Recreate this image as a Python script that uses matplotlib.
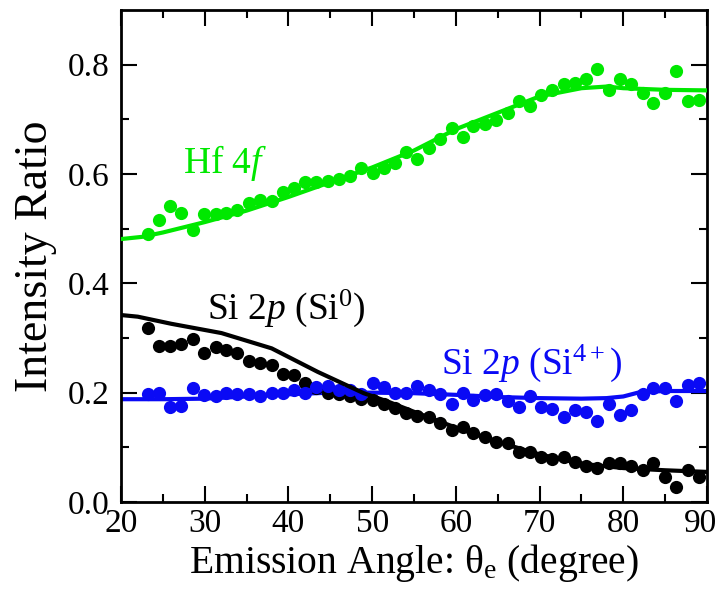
import numpy as np
import matplotlib
matplotlib.use("Agg")
import matplotlib.pyplot as plt
import matplotlib.transforms as mtransforms

plt.rcParams['font.family'] = ['Liberation Serif', 'DejaVu Serif']
plt.rcParams['mathtext.fontset'] = 'custom'
plt.rcParams['mathtext.rm'] = 'Liberation Serif'
plt.rcParams['mathtext.it'] = 'Liberation Serif:italic'

# angulos de emissao (graus)
angle = [23.2, 24.5, 25.9, 27.2, 28.6, 29.9, 31.3, 32.6, 33.9, 35.3,
         36.6, 38.0, 39.3, 40.7, 42.0, 43.3, 44.7, 46.0, 47.4, 48.7,
         50.1, 51.4, 52.7, 54.1, 55.4, 56.8, 58.1, 59.5, 60.8, 62.1,
         63.5, 64.8, 66.2, 67.5, 68.9, 70.2, 71.5, 72.9, 74.2, 75.6,
         76.9, 78.3, 79.6, 80.9, 82.3, 83.6, 85.0, 86.3, 87.7, 89.0]

# Hf 4f
hf = [0.491, 0.516, 0.541, 0.528, 0.498, 0.527, 0.527, 0.528, 0.535, 0.547,
      0.553, 0.550, 0.568, 0.574, 0.585, 0.585, 0.588, 0.591, 0.597, 0.611,
      0.602, 0.611, 0.621, 0.641, 0.627, 0.647, 0.664, 0.684, 0.668, 0.688,
      0.692, 0.699, 0.712, 0.733, 0.724, 0.745, 0.754, 0.765, 0.766, 0.773,
      0.792, 0.753, 0.773, 0.765, 0.749, 0.729, 0.749, 0.788, 0.733, 0.736]

# Si 2p (Si0)
si0 = [0.318, 0.286, 0.286, 0.289, 0.298, 0.272, 0.284, 0.278, 0.272, 0.257,
       0.254, 0.251, 0.234, 0.232, 0.217, 0.208, 0.199, 0.198, 0.193, 0.188,
       0.187, 0.179, 0.172, 0.162, 0.158, 0.156, 0.144, 0.132, 0.138, 0.126,
       0.118, 0.110, 0.107, 0.092, 0.092, 0.083, 0.078, 0.083, 0.074, 0.065,
       0.062, 0.071, 0.071, 0.065, 0.059, 0.071, 0.046, 0.027, 0.059, 0.046]

# Si 2p (Si4+)
si4 = [0.198, 0.200, 0.174, 0.176, 0.208, 0.196, 0.193, 0.200, 0.198, 0.198,
       0.193, 0.200, 0.200, 0.205, 0.199, 0.211, 0.212, 0.205, 0.205, 0.198,
       0.217, 0.210, 0.200, 0.200, 0.212, 0.205, 0.198, 0.179, 0.200, 0.187,
       0.196, 0.198, 0.184, 0.174, 0.193, 0.174, 0.171, 0.156, 0.168, 0.165,
       0.149, 0.179, 0.159, 0.168, 0.198, 0.208, 0.208, 0.184, 0.214, 0.217]

# curvas de ajuste
fit_hf_x = [20, 22.5, 25, 30, 35, 40, 45, 50, 55, 60, 65, 70, 75, 78, 80, 85, 90]
fit_hf_y = [0.481, 0.485, 0.493, 0.512, 0.533, 0.558, 0.585, 0.612, 0.643, 0.682,
            0.712, 0.742, 0.757, 0.760, 0.757, 0.754, 0.753]

fit_si0_x = [20, 22, 26, 32, 38, 43.5, 49, 52, 55, 60, 65, 70, 75, 80, 85, 90]
fit_si0_y = [0.342, 0.339, 0.326, 0.309, 0.281, 0.238, 0.199, 0.183, 0.165, 0.136,
             0.110, 0.087, 0.070, 0.062, 0.058, 0.055]

fit_si4_x = [20, 25, 30, 35, 40, 45, 50, 55, 60, 65, 70, 75, 78, 80, 82, 85, 90]
fit_si4_y = [0.188, 0.188, 0.189, 0.193, 0.197, 0.200, 0.200, 0.199, 0.196, 0.192,
             0.190, 0.189, 0.190, 0.193, 0.201, 0.203, 0.203]

green = '#00e800'
blue = '#0a0af5'

fig = plt.figure(figsize=(7.22, 5.90), dpi=100)
ax = fig.add_axes([0.1676, 0.1492, 0.8116, 0.8338])

ax.plot(fit_si4_x, fit_si4_y, '-', color=blue, lw=3, zorder=2)
ax.plot(angle, si0, 'o', color='black', ms=9.5, mec='none', zorder=3)
ax.plot(angle, si4, 'o', color=blue, ms=9.5, mec='none', zorder=4)
ax.plot(fit_si0_x, fit_si0_y, '-', color='black', lw=3, zorder=5)
ax.plot(fit_hf_x, fit_hf_y, '-', color=green, lw=3, zorder=6)
ax.plot(angle, hf, 'o', color=green, ms=9.5, mec='none', zorder=7)

ax.text(27.4, 0.602, 'Hf 4$f$', color=green, fontsize=27)
ax.text(30.3, 0.335, 'Si 2$p$ (Si$^{0}$)', color='black', fontsize=27)
ax.text(58.2, 0.234, 'Si 2$p$ (Si$^{4+}$)', color=blue, fontsize=27)

ax.set_xlim(20, 90)
ax.set_ylim(0, 0.9)
ax.set_xticks([20, 30, 40, 50, 60, 70, 80, 90])
ax.set_xticks(np.arange(25, 90, 10), minor=True)
ax.set_yticks([0.0, 0.2, 0.4, 0.6, 0.8])
ax.set_yticklabels(['0.0', '0.2', '0.4', '0.6', '0.8'])
ax.set_yticks([0.1, 0.3, 0.5, 0.7], minor=True)
ax.tick_params(which='both', direction='in', top=True, right=True, width=1.5, labelsize=24)
ax.tick_params(which='major', length=11.5)
ax.tick_params(which='minor', length=5.5)
ax.tick_params(axis='y', pad=8)
ax.tick_params(axis='x', pad=5)
for s in ax.spines.values():
    s.set_linewidth(2)

# o rotulo "90" fica um pouco para a esquerda para caber na figura
fig.canvas.draw()
lab90 = ax.get_xticklabels()[-1]
lab90.set_transform(lab90.get_transform() + mtransforms.ScaledTranslation(-5 / 72, 0, fig.dpi_scale_trans))

ax.set_xlabel(r'Emission Angle: θ$_{\mathrm{e}}$ (degree)', fontsize=28.5, labelpad=2)
ax.set_ylabel('Intensity Ratio', fontsize=33, labelpad=8)

plt.savefig('out.png', dpi=100)
